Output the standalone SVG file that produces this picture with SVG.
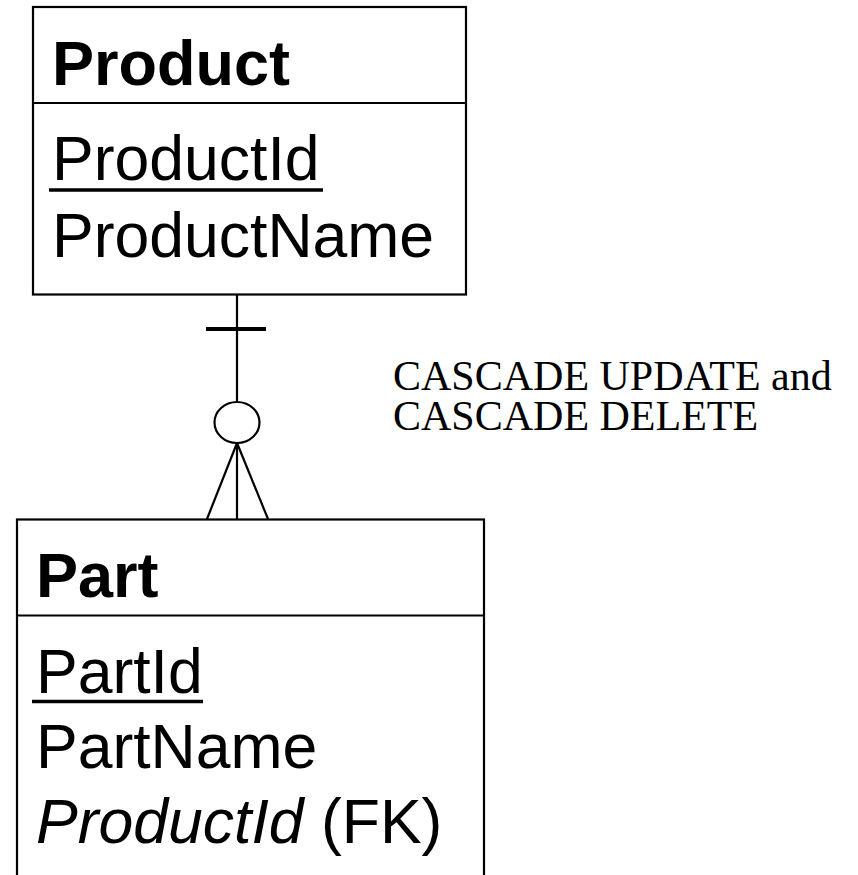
<svg xmlns="http://www.w3.org/2000/svg" width="858" height="875" viewBox="0 0 858 875">
  <style>
    .box { fill: #ffffff; stroke: #000000; stroke-width: 2.2; }
    .rule { stroke: #000000; stroke-width: 2.2; fill: none; }
    .title { font-family: "Liberation Sans", Arial, sans-serif; font-weight: bold; font-size: 63px; fill: #000000; }
    .attr { font-family: "Liberation Sans", Arial, sans-serif; font-size: 62.5px; fill: #000000; }
    .fk { font-style: italic; }
    .key { stroke: #000000; stroke-width: 3.5; }
    .note { font-family: "Liberation Serif", "Times New Roman", serif; font-size: 42px; fill: #000000; }
    .link { stroke: #000000; stroke-width: 2.2; fill: none; }
  </style>

  <!-- Relationship: Product (exactly one) to Part (zero or many) -->
  <g id="connectors">
    <line class="link" x1="237" y1="294" x2="237" y2="402"/>
    <line x1="206" y1="329" x2="266" y2="329" stroke="#000000" stroke-width="4"/>
    <ellipse class="link" cx="237" cy="422.5" rx="22.5" ry="20.5"/>
    <line class="link" x1="237" y1="443" x2="237" y2="519"/>
    <line class="link" x1="237" y1="443" x2="207" y2="519"/>
    <line class="link" x1="237" y1="443" x2="268" y2="519"/>
  </g>

  <g id="cascade-note">
    <text class="note" x="393" y="390">CASCADE UPDATE and<tspan x="393" y="430">CASCADE DELETE</tspan></text>
  </g>

  <g id="product">
    <rect class="box" x="33" y="7" width="433" height="287.5"/>
    <line class="rule" x1="33" y1="103" x2="466" y2="103"/>
    <text class="title" x="52" y="85">Product</text>
    <text class="attr" x="52" y="180">ProductId</text>
    <line class="key" x1="49" y1="190" x2="323" y2="190"/>
    <text class="attr" x="52" y="257">ProductName</text>
  </g>

  <g id="part">
    <rect class="box" x="17" y="519.5" width="467" height="370"/>
    <line class="rule" x1="17" y1="615.5" x2="484" y2="615.5"/>
    <text class="title" x="36" y="597">Part</text>
    <text class="attr" x="36" y="693">PartId</text>
    <line class="key" x1="32" y1="701.5" x2="203" y2="701.5"/>
    <text class="attr" x="36" y="768">PartName</text>
    <text class="attr" x="36" y="843"><tspan class="fk">ProductId</tspan> (FK)</text>
  </g>
</svg>
